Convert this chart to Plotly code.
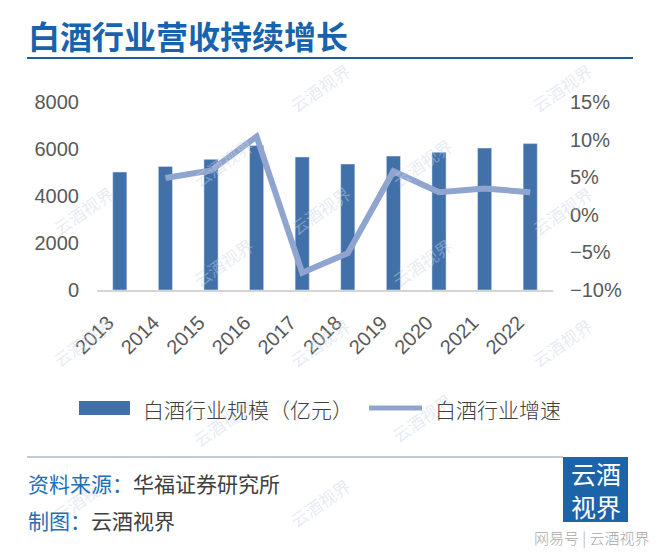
import plotly.graph_objects as go

# ---- data ----
years = ["2013", "2014", "2015", "2016", "2017", "2018", "2019", "2020", "2021", "2022"]
revenue = [5020, 5260, 5560, 6150, 5660, 5360, 5700, 5860, 6040, 6230]   # 白酒行业规模(亿元)
growth = [None, 4.9, 5.9, 10.4, -7.7, -5.1, 5.8, 3.0, 3.5, 3.0]          # 白酒行业增速 (%)
left_ticks = [0, 2000, 4000, 6000, 8000]
right_tickvals = [-10, -5, 0, 5, 10, 15]
right_ticktext = ["−10%", "−5%", "0%", "5%", "10%", "15%"]

# page is 660x557; the html body has an 8px margin, so the figure is drawn from (8, 8)
OFF = 8
PAGE_W, PAGE_H = 660, 557
W, H = PAGE_W - OFF, PAGE_H - OFF
PL, PR, PT, PB = 97, 553, 102, 290  # plot area in page pixels
LABEL_SHIFT = 0.26  # year labels sit slightly left of the bar centres, as in the reference


def px(x):
    return (x - PL) / (PR - PL)


def py(y):
    return (PB - y) / (PB - PT)


BAR_C = "#4270a9"
LINE_C = "#8fa5cf"
TICK_C = "#595959"
BLUE = "#1763ad"
CJK = "Noto Sans CJK SC"

fig = go.Figure()
fig.add_trace(go.Bar(x=years, y=revenue, marker_color=BAR_C, name="白酒行业规模(亿元)",
                     yaxis="y", showlegend=False))
fig.add_trace(go.Scatter(x=years, y=growth, mode="lines", name="白酒行业增速",
                         line=dict(color=LINE_C, width=6), yaxis="y2",
                         connectgaps=False, showlegend=False))
# carrier for the year tick labels on the overlay x axis (draws nothing)
fig.add_trace(go.Scatter(x=years, y=revenue, mode="none", xaxis="x2", yaxis="y",
                         hoverinfo="skip", showlegend=False))

shapes = []
annotations = []

# watermarks
wm_pos = [(320, 55), (600, 55), (185, 130), (460, 130), (45, 210), (320, 210), (600, 210),
          (185, 295), (460, 295), (45, 375), (320, 375), (600, 375), (185, 455), (460, 450),
          (45, 530), (320, 535)]
for (wx, wy) in wm_pos:
    annotations.append(dict(x=px(wx), y=py(wy), xref="paper", yref="paper", text="云酒视界",
                            showarrow=False, textangle=-35,
                            font=dict(family=CJK, size=17, color="rgba(200,212,228,0.45)")))

# title
annotations.append(dict(x=px(26), y=py(35), xref="paper", yref="paper", xanchor="left",
                        yanchor="middle", text="<b>白酒行业营收持续增长</b>", showarrow=False,
                        font=dict(family=CJK, size=32, color=BLUE)))
shapes.append(dict(type="line", xref="paper", yref="paper", x0=px(27), x1=px(633),
                   y0=py(58), y1=py(58), line=dict(color="#1a5d9e", width=2)))

# legend (custom)
shapes.append(dict(type="rect", xref="paper", yref="paper", x0=px(79), x1=px(130),
                   y0=py(401), y1=py(415), fillcolor=BAR_C, line=dict(width=0)))
annotations.append(dict(x=px(141), y=py(409), xref="paper", yref="paper", xanchor="left",
                        yanchor="middle", text="白酒行业规模（亿元）", showarrow=False,
                        font=dict(family=CJK, size=21, color="#404040", weight=300)))
shapes.append(dict(type="line", xref="paper", yref="paper", x0=px(369), x1=px(422),
                   y0=py(408), y1=py(408), line=dict(color=LINE_C, width=5)))
annotations.append(dict(x=px(433), y=py(409), xref="paper", yref="paper", xanchor="left",
                        yanchor="middle", text="白酒行业增速", showarrow=False,
                        font=dict(family=CJK, size=21, color="#404040", weight=300)))

# footer
shapes.append(dict(type="line", xref="paper", yref="paper", x0=px(27), x1=px(563),
                   y0=py(457), y1=py(457), line=dict(color="#7f98ab", width=1)))
annotations.append(dict(x=px(26), y=py(483), xref="paper", yref="paper", xanchor="left",
                        yanchor="middle",
                        text="<span style='color:#1e6fb5'>资料来源：</span>华福证券研究所",
                        showarrow=False, font=dict(family=CJK, size=21, color="#404040")))
annotations.append(dict(x=px(26), y=py(520), xref="paper", yref="paper", xanchor="left",
                        yanchor="middle",
                        text="<span style='color:#1e6fb5'>制图：</span>云酒视界",
                        showarrow=False, font=dict(family=CJK, size=21, color="#404040")))

# logo
shapes.append(dict(type="rect", xref="paper", yref="paper", x0=px(563), x1=px(628),
                   y0=py(522), y1=py(457), fillcolor="#1b64a8", line=dict(width=0)))
annotations.append(dict(x=px(595.5), y=py(489), xref="paper", yref="paper", xanchor="center",
                        yanchor="middle", text="云酒<br>视界", showarrow=False,
                        font=dict(family=CJK, size=25, color="white")))
annotations.append(dict(x=px(651), y=py(537), xref="paper", yref="paper", xanchor="right",
                        yanchor="middle", text="网易号 | 云酒视界", showarrow=False,
                        font=dict(family=CJK, size=15, color="#a8a8a8", weight=300)))

fig.update_layout(
    width=W, height=H,
    margin=dict(l=PL - OFF, r=PAGE_W - PR, t=PT - OFF, b=PAGE_H - PB, pad=0),
    paper_bgcolor="white", plot_bgcolor="white",
    bargap=0.69,
    showlegend=False,
    xaxis=dict(type="category", categoryarray=years, range=[-0.5, len(years) - 0.5],
               showgrid=False, showline=True, linecolor="#d4d4d4", linewidth=1.5,
               ticks="", showticklabels=False, fixedrange=True),
    xaxis2=dict(type="category", categoryarray=years, overlaying="x", anchor="y",
                side="bottom",
                range=[-0.5 + LABEL_SHIFT, len(years) - 0.5 + LABEL_SHIFT],
                showgrid=False, showline=False, zeroline=False, ticks="", tickangle=-45,
                ticklabelstandoff=16,
                tickfont=dict(family="Liberation Sans", size=20, color=TICK_C),
                fixedrange=True),
    yaxis=dict(range=[0, 8000], tickvals=left_ticks, showgrid=False, zeroline=False,
               showline=False, ticks="", ticklabelstandoff=17,
               tickfont=dict(family="Liberation Sans", size=20, color=TICK_C)),
    yaxis2=dict(range=[-10, 15], overlaying="y", side="right", tickvals=right_tickvals,
                ticktext=right_ticktext, showgrid=False, zeroline=False, showline=False,
                ticks="", ticklabelstandoff=16,
                tickfont=dict(family="Liberation Sans", size=20, color=TICK_C)),
    shapes=shapes,
    annotations=annotations,
)

fig.write_html("out.html")
